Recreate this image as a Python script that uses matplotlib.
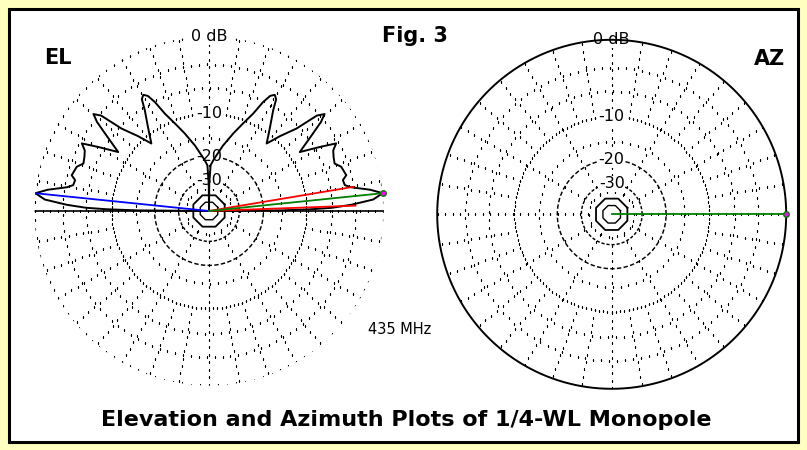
import numpy as np
import matplotlib
matplotlib.use("Agg")
import matplotlib.pyplot as plt
from matplotlib.patches import Rectangle

# elevation pattern, right half: degrees above horizon -> dB below max
el_deg = [0, 0.5, 1, 1.5, 2.5, 4, 5.85, 7.5, 9.5, 10.8, 13, 14.6, 18.5, 20.7,
          23.5, 26, 28, 30, 33, 36.7, 38.5, 40, 41.5, 43.3, 46.5, 49.5, 54,
          57.5, 59, 60.5, 62, 63.6, 65.6, 69, 72.6, 78, 85, 88, 89.5, 90]
el_db = [-99, -15, -9, -6, -3.5, -1, 0, -1.2, -3.3, -4.0, -4.1, -3.55, -3.85, -4.5,
         -4.3, -4.0, -3.3, -5.3, -8.2, -5.1, -3.4, -2.5, -3.3, -6.4, -9.0, -11.6, -8.9,
         -6.5, -5.0, -4.6, -5.0, -6.2, -8.4, -10.8, -13.1, -16.5, -21, -23, -32, -99]

az_db = 0.0            # omnidirectional azimuth pattern
cursor_el = 5.85       # max gain elevation
half_power_el = [2.1, 9.5]

major_db = [0, -10]
minor_db = [-3, -6, -15, -35]
dashed_db = [-20, -30]
ring_labels = ["0 dB", "-10", "-20", "-30"]
label_db = [0, -10, -20, -30]
freq_text = "435 MHz"
title_text = "Elevation and Azimuth Plots of 1/4-WL Monopole"

W, H = 807, 450
R_PX = 174.5


def arrl(db):
    # ARRL log scale, 0.89 per 2 dB
    return 0.89 ** (-np.asarray(db, dtype=float) / 2.0)


def make_polar(fig, cx, cy, R):
    ax = fig.add_axes([(cx - R) / W, 1 - (cy + R) / H, 2 * R / W, 2 * R / H],
                      projection="polar")
    ax.set_ylim(0, 1)
    ax.set_axis_off()
    return ax


def dots(ax, th, r):
    ax.plot(th, r, ls="none", marker="s", ms=0.9, mew=0, color="black",
            zorder=1)


def grid(ax, solid_outer=False):
    for db in major_db:
        if solid_outer and db == 0:
            continue
        th = np.radians(np.arange(0, 360, 3.0 if db == 0 else 2.5))
        dots(ax, th, np.full_like(th, arrl(db)))
    for db in minor_db:
        r = arrl(db)
        step = max(3.0, np.degrees(8.0 / (r * R_PX)))
        th = np.radians(np.arange(0, 360, step))
        dots(ax, th, np.full_like(th, r))
    th = np.radians(np.linspace(0, 360, 361))
    for db, dash in zip(dashed_db, [(3, 1.6), (2.2, 1.3)]):
        ax.plot(th, np.full_like(th, arrl(db)), color="black", lw=1.05,
                ls=(0, dash), zorder=1.5)
    # radial dotted lines
    for a in range(0, 360, 10):
        start = arrl(-40) + 0.04 if a % 30 == 0 else arrl(-10)
        rr = np.arange(start, 1.0, 7.5 / R_PX)
        dots(ax, np.full_like(rr, np.radians(a)), rr)
    # small inner rings
    th8 = np.radians(np.arange(22.5, 383, 45))
    ax.plot(th8, np.full_like(th8, arrl(-40)), color="black", lw=1.3, zorder=2)
    ax.plot(th8, np.full_like(th8, arrl(-50)), color="black", lw=1.0, zorder=2)
    for txt, db in zip(ring_labels, label_db):
        ax.text(np.pi / 2, arrl(db), txt, ha="center", va="center",
                fontsize=11.5, family="DejaVu Sans", zorder=2.5,
                bbox=dict(boxstyle="square,pad=0.05", fc="white", ec="none"))


fig = plt.figure(figsize=(W / 100, H / 100), dpi=100)
fig.patch.set_facecolor("#FFFFC0")
fig.patches.append(Rectangle((9 / W, 1 - 442 / H), 789 / W, 433 / H,
                             transform=fig.transFigure, fc="white", ec="black",
                             lw=2.2, zorder=-5))

# EL plot
ax1 = make_polar(fig, 209, 211, R_PX)
grid(ax1)
deg = np.array(el_deg)
r = arrl(el_db)
th = np.concatenate([np.radians(deg), np.radians(180 - deg[::-1])])
rr = np.concatenate([r, r[::-1]])
ax1.plot(th, rr, color="black", lw=1.4, zorder=3)
ax1.plot([np.pi, 0, 0], [1, 0, 1], color="black", lw=1.2, zorder=3)
for e in half_power_el:
    ax1.plot([np.radians(e)] * 2, [0, arrl(-3)], color="#FF0000", lw=1.3, zorder=4)
ax1.plot([np.radians(180 - cursor_el)] * 2, [0, 1], color="#0000FF", lw=1.3, zorder=4)
ax1.plot([np.radians(cursor_el)] * 2, [0, 1], color="#008000", lw=1.3, zorder=5)
ax1.plot([np.radians(cursor_el)], [1], marker="o", ms=4, mfc="#FF00FF",
         mec="#008000", mew=1, clip_on=False, zorder=6)

# AZ plot
ax2 = make_polar(fig, 611.7, 214.3, R_PX)
grid(ax2, solid_outer=True)
tha = np.radians(np.arange(0, 361, 2))
ax2.plot(tha, np.full_like(tha, arrl(az_db)), color="black", lw=1.4,
         clip_on=False, zorder=3)
ax2.plot([0, 0], [0, 1], color="#008000", lw=1.3, zorder=5)
ax2.plot([0], [1], marker="o", ms=4, mfc="#FF00FF", mec="#008000", mew=1,
         clip_on=False, zorder=6)

bold = dict(family="DejaVu Sans", weight="bold", ha="center", va="center")
fig.text(57.5 / W, 1 - 57.5 / H, "EL", fontsize=15, **bold)
fig.text(415 / W, 1 - 36 / H, "Fig. 3", fontsize=15, **bold)
fig.text(770 / W, 1 - 59 / H, "AZ", fontsize=15, **bold)
fig.text(400 / W, 1 - 330 / H, freq_text, fontsize=10.5, family="DejaVu Sans",
         ha="center", va="center")
fig.text(406 / W, 1 - 420 / H, title_text, fontsize=16, **bold)

fig.savefig("out.png", dpi=100, facecolor=fig.get_facecolor())
